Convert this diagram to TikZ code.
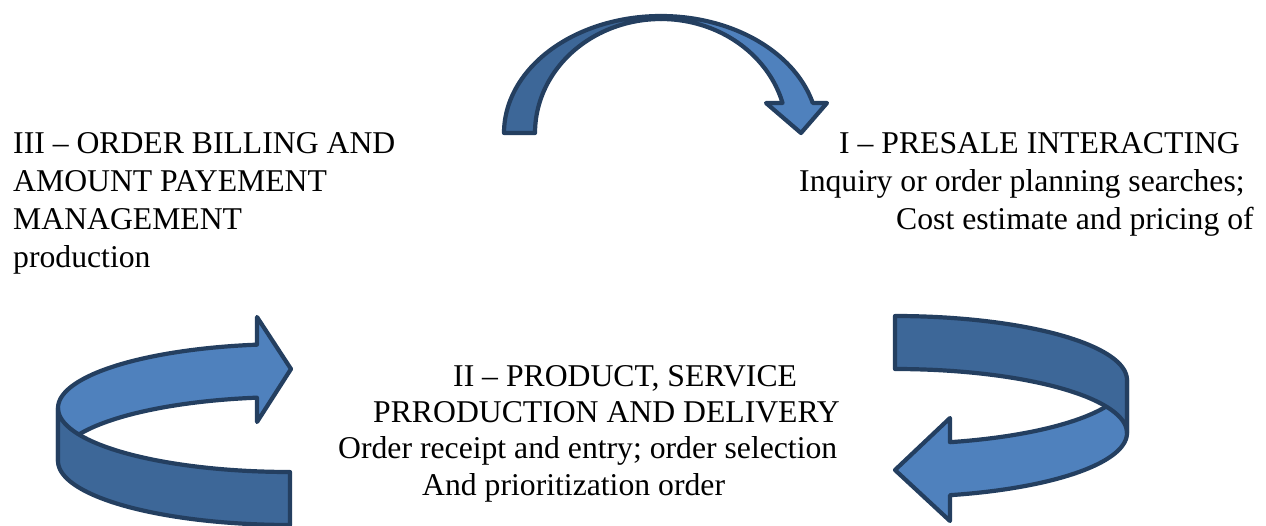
\documentclass[tikz,border=0pt]{standalone}
\usepackage{fontspec}
\setmainfont{Liberation Serif}
\definecolor{bandlight}{RGB}{79,129,189}
\definecolor{banddark}{RGB}{61,103,152}
\definecolor{bandline}{RGB}{36,63,96}
\begin{document}
\begin{tikzpicture}[x=1pt,y=-1pt,
  lightband/.style={fill=bandlight,draw=bandline,line width=4.2pt,line join=round},
  darkband/.style={fill=banddark,draw=bandline,line width=4.2pt,line join=round},
  label/.style={inner sep=0pt,anchor=base west,font=\fontsize{31.7}{38}\selectfont},
  smooth]
\useasboundingbox (0,0) rectangle (1266,525);

% ---------- top curved arrow ----------
\filldraw[lightband] plot[domain=90:14.9,samples=50,variable=\t] ({661+157*cos(\t)},{133-117*sin(\t)})
  -- (827,103) -- (801,133) -- (766,103)
  -- plot[domain=15.3:90,samples=50,variable=\t] ({661+126*cos(\t)},{133-114*sin(\t)}) -- cycle;
\filldraw[darkband] plot[domain=180:90,samples=50,variable=\t] ({661+157*cos(\t)},{133-117*sin(\t)})
  -- plot[domain=90:180,samples=50,variable=\t] ({661+126*cos(\t)},{133-114*sin(\t)}) -- cycle;

% ---------- right curved arrow ----------
\filldraw[lightband] plot[domain=0:-76.3,samples=50,variable=\t] ({895+232*cos(\t)},{433-64*sin(\t)})
  -- (950,521) -- (895,470) -- (950,418)
  -- plot[domain=-76.3:0,samples=50,variable=\t] ({895+232*cos(\t)},{380-64*sin(\t)}) -- cycle;
\filldraw[darkband] plot[domain=90:0,samples=50,variable=\t] ({895+232*cos(\t)},{380-64*sin(\t)})
  -- plot[domain=0:90,samples=50,variable=\t] ({895+232*cos(\t)},{433-64*sin(\t)}) -- cycle;

% ---------- left curved arrow ----------
\filldraw[lightband] plot[domain=180:98.2,samples=50,variable=\t] ({290+232*cos(\t)},{408-64*sin(\t)})
  -- (257,317) -- (291,369) -- (257,422)
  -- plot[domain=98.2:180,samples=50,variable=\t] ({290+232*cos(\t)},{461-64*sin(\t)}) -- cycle;
\filldraw[darkband] plot[domain=180:270,samples=50,variable=\t] ({290+232*cos(\t)},{408-64*sin(\t)})
  -- plot[domain=270:180,samples=50,variable=\t] ({290+232*cos(\t)},{461-64*sin(\t)}) -- cycle;

% ---------- texts ----------
\node[label] (t3a) at (13,153) {III – ORDER BILLING AND};
\node[label] (t3b) at (13,191) {AMOUNT PAYEMENT};
\node[label] (t3c) at (13,229) {MANAGEMENT};
\node[label] (t3d) at (13,267) {production};

\node[label] (t1a) at (839,153) {I – PRESALE INTERACTING};
\node[label] (t1b) at (799,191) {Inquiry or order planning searches;};
\node[label] (t1c) at (896,229) {Cost estimate and pricing of};

\node[label] (t2a) at (453,386) {II – PRODUCT, SERVICE};
\node[label] (t2b) at (373,422) {PRRODUCTION AND DELIVERY};
\node[label] (t2c) at (338,458) {Order receipt and entry; order selection};
\node[label] (t2d) at (422,495) {And prioritization order};
\end{tikzpicture}
\end{document}
